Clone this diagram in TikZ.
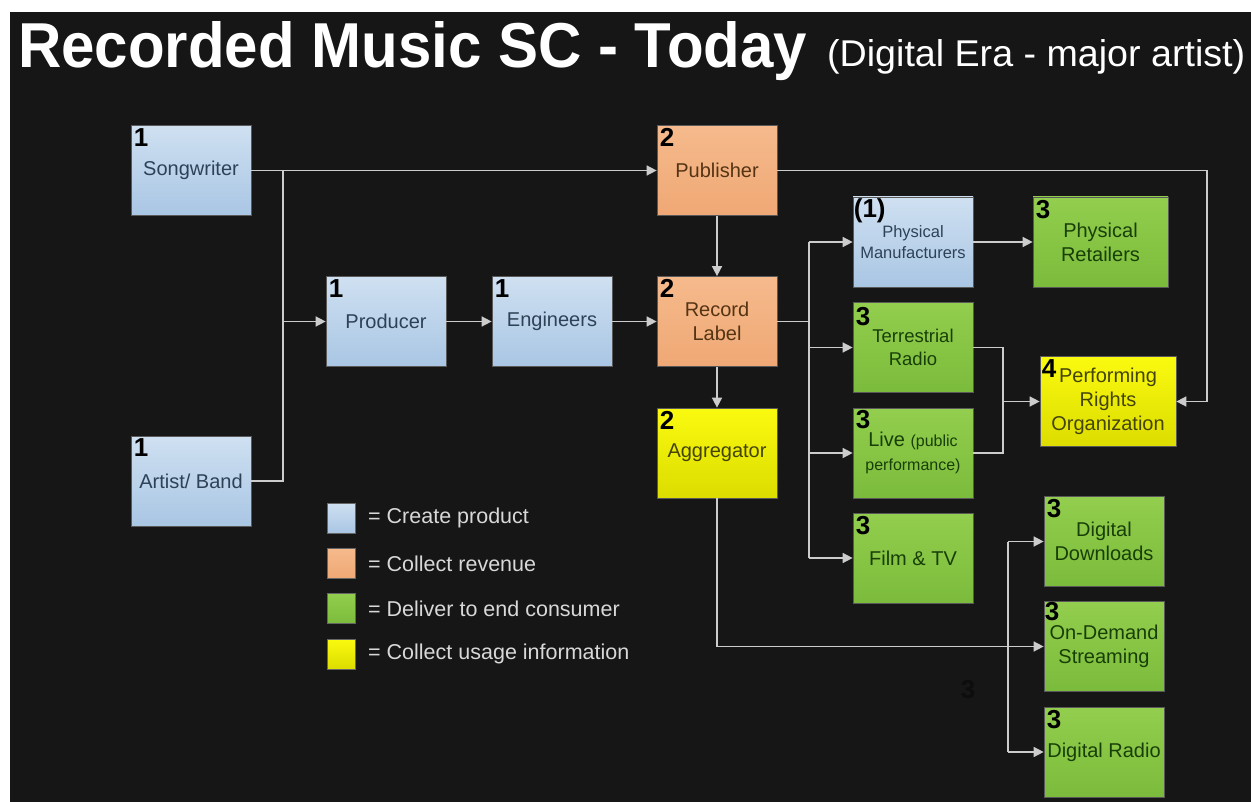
\documentclass[tikz,border=0pt]{standalone}
\usepackage{fontspec}
\setmainfont{Liberation Sans}
\usetikzlibrary{arrows.meta,calc}
\definecolor{bg}{HTML}{161616}
\definecolor{blueT}{HTML}{CFE0F1}
\definecolor{blueB}{HTML}{A9C6E4}
\definecolor{orT}{HTML}{F6BA8C}
\definecolor{orB}{HTML}{EFA875}
\definecolor{grT}{HTML}{93CE4E}
\definecolor{grB}{HTML}{7BBB3B}
\definecolor{yeT}{HTML}{FAFA10}
\definecolor{yeB}{HTML}{DCDC00}
\definecolor{blueTxt}{HTML}{2E4257}
\definecolor{orTxt}{HTML}{553414}
\definecolor{grTxt}{HTML}{183F08}
\definecolor{yeTxt}{HTML}{444406}
\definecolor{lineC}{HTML}{CCCCCC}
\definecolor{legTxt}{HTML}{D8D8D8}
\tikzset{
  box/.style={minimum width=120pt, minimum height=90pt, inner sep=0pt, align=center,
    font=\fontsize{20}{24}\selectfont, draw=black!65, line width=0.7pt},
  bluebox/.style={box, top color=blueT, bottom color=blueB, text=blueTxt},
  orbox/.style={box, top color=orT, bottom color=orB, text=orTxt},
  grbox/.style={box, top color=grT, bottom color=grB, text=grTxt},
  yebox/.style={box, top color=yeT, bottom color=yeB, text=yeTxt},
  num/.style={anchor=north west, inner sep=0pt, font=\bfseries\fontsize{26}{26}\selectfont, text=black},
  conn/.style={draw=lineC, line width=1.5pt},
  arr/.style={conn, -{Triangle[length=10pt,width=10pt]}},
  legsq/.style={minimum width=28pt, minimum height=30pt, inner sep=0pt, draw=black!60, line width=0.6pt},
  legtxt/.style={anchor=west, inner sep=0pt, text=legTxt, font=\fontsize{21.5}{24}\selectfont}
}
\begin{document}
\begin{tikzpicture}[x=1pt,y=-1pt]
\useasboundingbox (0,0) rectangle (1251,802);
\fill[white] (0,0) rectangle (1251,802);
\fill[bg] (10,12) rectangle (1251,802);

% titles
\node[anchor=base west, inner sep=0pt, text=white] (title) at (18,68)
  {\resizebox{789pt}{46pt}{\bfseries Recorded Music SC - Today}};
\node[anchor=base west, inner sep=0pt, text=white] (subtitle) at (827,67)
  {\resizebox{418pt}{27pt}{(Digital Era - major artist)}};

% boxes
\node[bluebox] (sw) at (191,170.5) {Songwriter};
\node[bluebox] (ab) at (191,481) {Artist/ Band};
\node[bluebox] (prod) at (386,321.5) {Producer};
\node[bluebox] (eng) at (552,321.5) {Engineers};
\node[orbox] (pub) at (717,170.5) {Publisher};
\node[orbox] (rl) at (717,321.5) {Record\\Label};
\node[yebox] (agg) at (717,453) {Aggregator};
\node[bluebox, font=\fontsize{16.5}{21}\selectfont] (pm) at (913,242) {Physical\\Manufacturers};
\node[grbox, minimum width=135pt] (pr) at (1100.5,242) {Physical\\Retailers};
\node[grbox, font=\fontsize{18.5}{23}\selectfont] (tr) at (913,347.5) {Terrestrial\\Radio};
\node[grbox] (live) at (913,453) {Live {\fontsize{16}{20}\selectfont(public}\\{\fontsize{16}{20}\selectfont performance)}};
\node[grbox] (film) at (913,558) {Film \& TV};
\node[yebox, minimum width=136pt] (pro) at (1108,401.5) {Performing\\Rights\\Organization};
\node[grbox] (dd) at (1104,541.5) {Digital\\Downloads};
\node[grbox] (ods) at (1104,646.5) {On-Demand\\Streaming};
\node[grbox] (dr) at (1104,752) {Digital Radio};

% numbers
\node[num] (nsw) at ($(sw.north west)+(3,3)$) {1};
\node[num] (nab) at ($(ab.north west)+(3,3)$) {1};
\node[num] (nprod) at ($(prod.north west)+(3,3)$) {1};
\node[num] (neng) at ($(eng.north west)+(3,3)$) {1};
\node[num] (npub) at ($(pub.north west)+(3,3)$) {2};
\node[num] (nrl) at ($(rl.north west)+(3,3)$) {2};
\node[num] (nagg) at ($(agg.north west)+(3,3)$) {2};
\node[num] (npm) at ($(pm.north west)+(1,2)$) {(1)};
\node[num] (npr) at ($(pr.north west)+(3,3)$) {3};
\node[num] (ntr) at ($(tr.north west)+(3,5)$) {3};
\node[num] (nlive) at ($(live.north west)+(3,2)$) {3};
\node[num] (nfilm) at ($(film.north west)+(3,3)$) {3};
\node[num] (npro) at ($(pro.north west)+(2,3)$) {4};
\node[num] (ndd) at ($(dd.north west)+(3,3)$) {3};
\node[num] (nods) at ($(ods.north west)+(1,1)$) {3};
\node[num] (ndr) at ($(dr.north west)+(3,3)$) {3};
\node[num, anchor=center, text=black!95] (stray) at (968,690) {3};

% legend
\node[legsq, top color=blueT, bottom color=blueB] (lg1) at (341,518) {};
\node[legsq, top color=orT, bottom color=orB] (lg2) at (341,563.5) {};
\node[legsq, top color=grT, bottom color=grB] (lg3) at (341,608.5) {};
\node[legsq, top color=yeT, bottom color=yeB] (lg4) at (341,654) {};
\node[legtxt] (lt1) at (368,518) {= Create product};
\node[legtxt] (lt2) at (368,563.5) {= Collect revenue};
\node[legtxt] (lt3) at (368,608.5) {= Deliver to end consumer};
\node[legtxt] (lt4) at (368,654) {= Collect usage information};

% connectors
\coordinate (jA) at (283,170.5);
\draw[conn] (ab.east) -| (jA);
\draw[arr] (sw.east) -- (pub.west);
\draw[arr] (jA |- prod.west) -- (prod.west);
\draw[arr] (prod) -- (eng);
\draw[arr] (eng) -- (rl);
\draw[arr] (pub) -- (rl);
\draw[arr] (rl) -- (agg);

\coordinate (jB) at (809,321.5);
\draw[conn] (rl.east) -- (jB);
\draw[conn] (jB |- pm.west) -- (jB |- film.west);
\draw[arr] (jB |- pm.west) -- (pm.west);
\draw[arr] (jB |- tr.west) -- (tr.west);
\draw[arr] (jB |- live.west) -- (live.west);
\draw[arr] (jB |- film.west) -- (film.west);
\draw[arr] (pm) -- (pr);

\coordinate (jC) at (1003,401.5);
\draw[conn] (tr.east) -| (jC);
\draw[conn] (live.east) -| (jC);
\draw[arr] (jC) -- (pro.west);

\coordinate (jD) at (1207,170.5);
\draw[arr] (pub.east) -- (jD) |- (pro.east);

\coordinate (jE) at (1008,646.5);
\draw[arr] (agg.south) |- (ods.west);
\draw[conn] (jE |- dd.west) -- (jE |- dr.west);
\draw[arr] (jE |- dd.west) -- (dd.west);
\draw[arr] (jE |- dr.west) -- (dr.west);
\end{tikzpicture}
\end{document}
